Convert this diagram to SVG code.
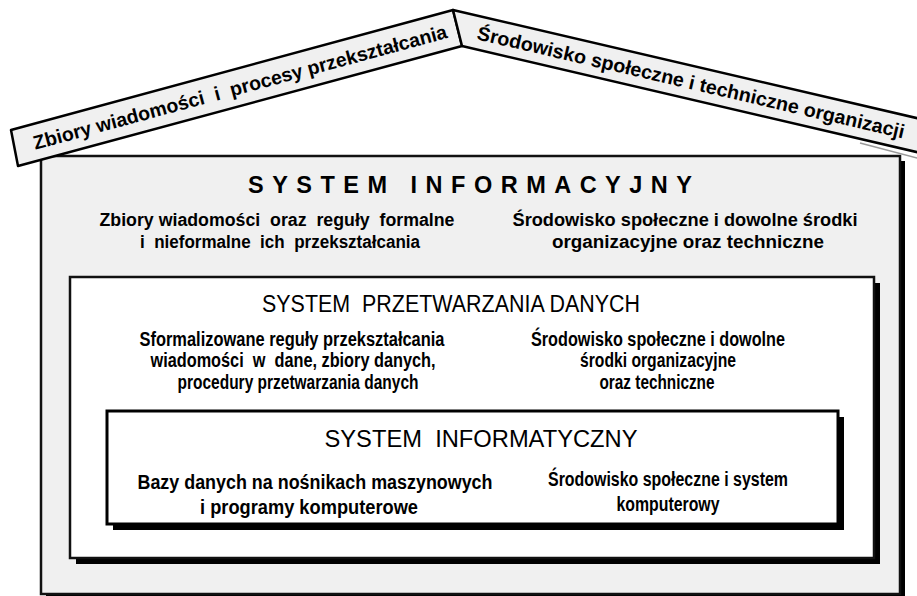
<svg xmlns="http://www.w3.org/2000/svg" width="917" height="596" viewBox="0 0 917 596">
  <style>
    text { font-family: "Liberation Sans", Arial, sans-serif; fill: #000; }
    .roof { font-size: 19.5px; font-weight: bold; }
    .title { font-size: 23.5px; font-weight: bold; }
    .body { font-size: 18px; font-weight: bold; }
    .head { font-size: 23px; font-weight: normal; }
    .narrow { font-size: 20px; font-weight: bold; }
    .plank { fill: #f0f0f0; stroke: #000; stroke-width: 2.5; stroke-linejoin: round; }
    .shadow { fill: #000; }
  </style>

  <rect width="917" height="596" fill="#ffffff"/>

  <!-- outer box: information system -->
  <g id="system-informacyjny">
    <rect class="shadow" x="46" y="161" width="859" height="438"/>
    <rect x="41" y="156" width="859" height="438" fill="#f0f0f0" stroke="#111" stroke-width="2.5"/>
    <text class="title" x="470" y="193" text-anchor="middle" textLength="444" lengthAdjust="spacing">SYSTEM INFORMACYJNY</text>
    <text class="body" x="277" y="226" text-anchor="middle" textLength="355" lengthAdjust="spacingAndGlyphs" xml:space="preserve">Zbiory wiadomości  oraz  reguły  formalne</text>
    <text class="body" x="280" y="248" text-anchor="middle" textLength="280" lengthAdjust="spacingAndGlyphs" xml:space="preserve">i  nieformalne  ich  przekształcania</text>
    <text class="body" x="685" y="226" text-anchor="middle" textLength="345" lengthAdjust="spacingAndGlyphs">Środowisko społeczne i dowolne środki</text>
    <text class="body" x="688" y="248" text-anchor="middle" textLength="272" lengthAdjust="spacingAndGlyphs">organizacyjne oraz techniczne</text>
  </g>

  <!-- middle box: data processing system -->
  <g id="system-przetwarzania-danych">
    <rect class="shadow" x="76" y="283" width="804" height="281"/>
    <rect x="70" y="277" width="804" height="281" fill="#ffffff" stroke="#111" stroke-width="2.5"/>
    <text class="head" x="451" y="312" text-anchor="middle" textLength="378" lengthAdjust="spacingAndGlyphs" xml:space="preserve">SYSTEM  PRZETWARZANIA DANYCH</text>
    <text class="narrow" x="292" y="346" text-anchor="middle" textLength="305" lengthAdjust="spacingAndGlyphs">Sformalizowane reguły przekształcania</text>
    <text class="narrow" x="293" y="367" text-anchor="middle" textLength="285" lengthAdjust="spacingAndGlyphs" xml:space="preserve">wiadomości  w  dane, zbiory danych,</text>
    <text class="narrow" x="298" y="389" text-anchor="middle" textLength="241" lengthAdjust="spacingAndGlyphs">procedury przetwarzania danych</text>
    <text class="narrow" x="658" y="346" text-anchor="middle" textLength="254" lengthAdjust="spacingAndGlyphs">Środowisko społeczne i dowolne</text>
    <text class="narrow" x="658" y="367" text-anchor="middle" textLength="156" lengthAdjust="spacingAndGlyphs">środki organizacyjne</text>
    <text class="narrow" x="657" y="389" text-anchor="middle" textLength="115" lengthAdjust="spacingAndGlyphs">oraz techniczne</text>
  </g>

  <!-- inner box: computer system -->
  <g id="system-informatyczny">
    <rect class="shadow" x="113" y="417" width="731" height="113"/>
    <rect x="107" y="411" width="731" height="113" fill="#ffffff" stroke="#000" stroke-width="3"/>
    <text class="head" x="481" y="447" text-anchor="middle" textLength="313" lengthAdjust="spacingAndGlyphs" xml:space="preserve">SYSTEM  INFORMATYCZNY</text>
    <text class="narrow" x="315" y="489" text-anchor="middle" textLength="355" lengthAdjust="spacingAndGlyphs">Bazy danych na nośnikach maszynowych</text>
    <text class="narrow" x="309" y="514" text-anchor="middle" textLength="218" lengthAdjust="spacingAndGlyphs">i programy komputerowe</text>
    <text class="narrow" x="668" y="486" text-anchor="middle" textLength="240" lengthAdjust="spacingAndGlyphs">Środowisko społeczne i system</text>
    <text class="narrow" x="668" y="511" text-anchor="middle" textLength="103" lengthAdjust="spacingAndGlyphs">komputerowy</text>
  </g>

  <!-- roof: left plank -->
  <g id="roof-left">
    <polygon class="plank" points="11,130 453,10 462,46 18,166"/>
    <text class="roof" transform="translate(240,87) rotate(-15.2)" x="0" y="7" text-anchor="middle" textLength="428" lengthAdjust="spacingAndGlyphs" xml:space="preserve">Zbiory wiadomości  i  procesy przekształcania</text>
  </g>

  <!-- roof: right plank -->
  <g id="roof-right">
    <line x1="860" y1="143" x2="925" y2="160" stroke="#999" stroke-width="1.5"/>
    <polygon class="plank" points="453,10 925,120 925,154 462,46"/>
    <text class="roof" transform="translate(691,82) rotate(13.1)" x="0" y="7" text-anchor="middle" textLength="438" lengthAdjust="spacingAndGlyphs">Środowisko społeczne i techniczne organizacji</text>
  </g>
</svg>
